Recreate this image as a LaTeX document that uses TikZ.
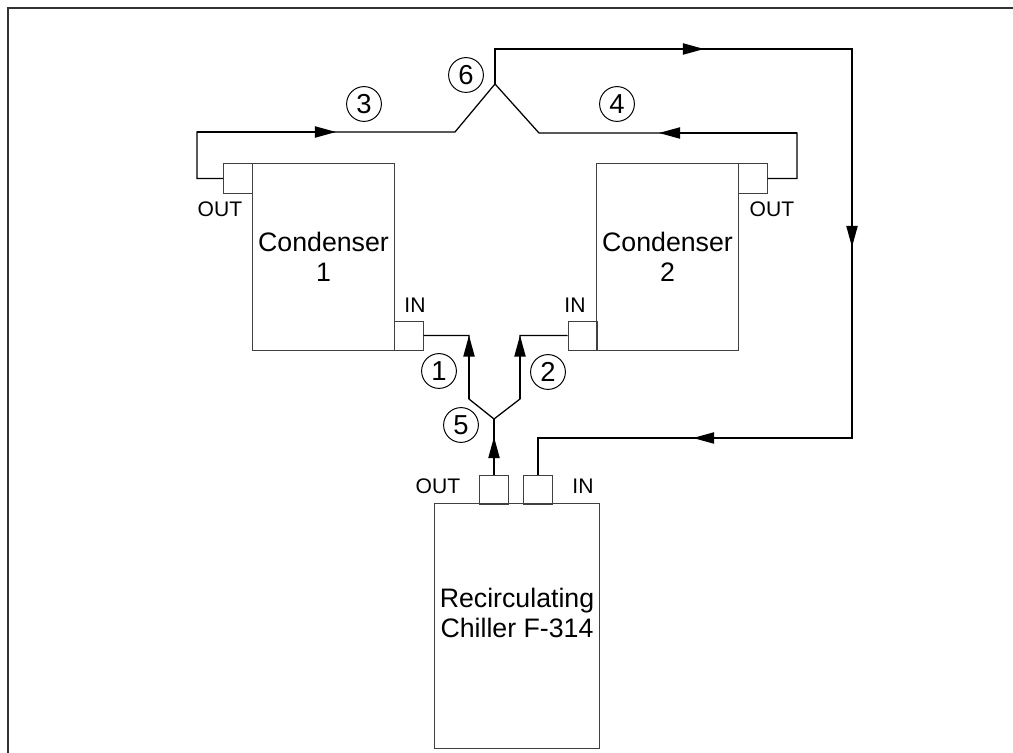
\documentclass[tikz,border=0pt]{standalone}
\usepackage{fontspec}
\setmainfont{Liberation Sans}
\usetikzlibrary{arrows.meta}

\tikzset{
    unit/.style={draw=black!75, line width=0.7pt, minimum width=3.525cm, minimum height=4.65cm, inner sep=0pt, align=center, font=\fontsize{19}{21.5}\selectfont},
    port/.style={draw=black!75, line width=0.7pt, minimum width=0.725cm, minimum height=0.725cm, inner sep=0pt},
    pipe/.style={line width=0.9pt},
    flow/.style={pipe, -{Triangle[length=15pt,width=8pt]}},
    tag/.style={inner sep=0pt, font=\fontsize{15}{17}\selectfont},
    num/.style={draw, circle, minimum size=0.87cm, inner sep=0pt, line width=0.7pt, font=\fontsize{19.5}{20}\selectfont}
}

\begin{document}
\begin{tikzpicture}[x=0.025cm, y=-0.025cm]
    \useasboundingbox (0,0) rectangle (1013,753);
    \draw[line width=1pt, black!80] (8,753) -- (8,8) -- (1013,8);

    \node[unit] (cond1) at (323.5,257) {Condenser\\1};
    \node[unit] (cond2) at (667.5,257) {Condenser\\2};
    \node[unit, minimum width=4.1cm, minimum height=6.1cm] (chiller) at (517,626) {};
    \node[align=center, font=\fontsize{19}{21.5}\selectfont] (chillername) at (517,613) {Recirculating\\Chiller F-314};

    \node[port] (out1) at (238,178.5) {};
    \node[port] (in1) at (408.5,335.5) {};
    \node[port] (out2) at (752.5,178.5) {};
    \node[port] (in2) at (582.5,335.5) {};
    \node[port] (cout) at (494,489.5) {};
    \node[port] (cin) at (538,489.5) {};

    \node[tag] (tout1) at (220,209) {OUT};
    \node[tag] (tin1) at (415,305) {IN};
    \node[tag] (tout2) at (772,209) {OUT};
    \node[tag] (tin2) at (575,305) {IN};
    \node[tag] (tcout) at (438,486) {OUT};
    \node[tag] (tcin) at (583,486) {IN};

    \coordinate (j6) at (495,84);
    \coordinate (j5) at (494,419);
    \coordinate (a1) at (469,335.5);
    \coordinate (a2) at (520,335.5);
    \coordinate (a3) at (336,132);
    \coordinate (a4) at (659,133);
    \coordinate (a5) at (494,437);
    \coordinate (a6) at (704,49);
    \coordinate (a7) at (852,247);
    \coordinate (a8) at (693,438);

    % pipes
    \draw[pipe] (out1.west) -- (197,178.5) |- (455,132) -- (j6);
    \draw[pipe] (out2.east) -- (797,178.5) |- (539,133) -- (j6);
    \draw[pipe] (j6) |- (852,49) |- (a8) -| (cin.north);
    \draw[pipe] (cout.north) -- (j5);
    \draw[pipe] (in1.east) -- (a1) -- (469,399) -- (j5) -- (520,399) -- (a2) -- (in2.west);

    % arrow heads
    \draw[flow] (197,132) -- (a3);
    \draw[flow] (797,133) -- (a4);
    \draw[flow] (cout.north) -- (a5);
    \draw[flow] (495,49) -- (a6);
    \draw[flow] (852,49) -- (a7);
    \draw[flow] (852,438) -- (a8);
    \draw[flow] (469,399) -- (a1);
    \draw[flow] (520,399) -- (a2);

    \foreach \n/\x/\y in {1/439/371, 2/548/372, 3/364/104, 4/617/104, 5/461/425, 6/466/75}
      \node[num] (n\n) at (\x,\y) {\n};
\end{tikzpicture}
\end{document}
